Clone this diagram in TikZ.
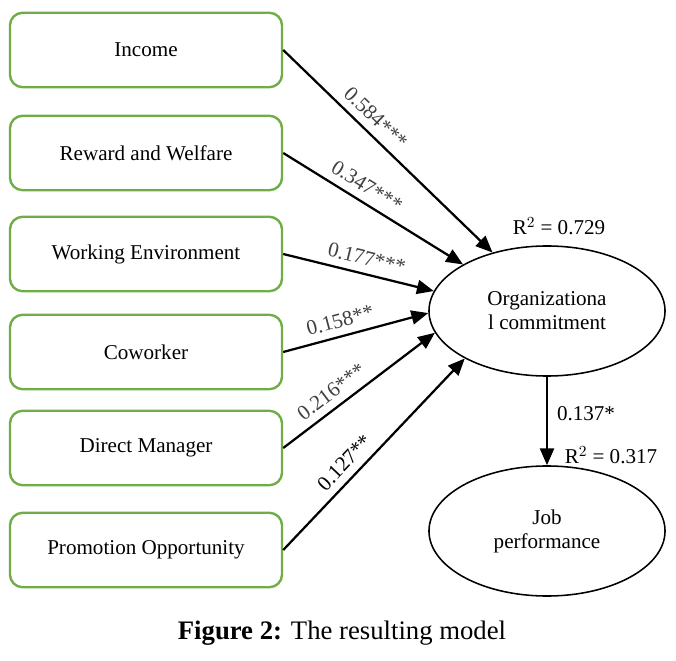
\documentclass[tikz,border=0pt]{standalone}
\usepackage{fontspec}
\setmainfont{Liberation Serif}
\usetikzlibrary{arrows.meta,positioning,shapes.geometric}
\definecolor{boxgreen}{HTML}{70AD47}
\definecolor{lblgray}{HTML}{404040}
\tikzset{
  factor/.style={draw=boxgreen,line width=1.7pt,rounded corners=9pt,
    minimum width=6.8cm,minimum height=1.86cm,font=\fontsize{15}{18}\selectfont},
  latent/.style={draw,ellipse,line width=1.1pt,minimum width=5.9cm,minimum height=3.25cm,
    align=center,font=\fontsize{15}{17}\selectfont},
  path/.style={line width=1.6pt,-{Triangle[length=12pt,width=10pt]}},
  coef/.style={font=\fontsize{15}{18}\selectfont,text=lblgray,sloped,above,yshift=2pt}
}

\begin{document}
\begin{tikzpicture}[x=0.025cm,y=-0.025cm]
  \useasboundingbox (0,0) rectangle (676,661);
  % Factors
  \node[factor] (inc) at (146,50) {Income};
  \node[factor] (rew) at (146,153) {Reward and Welfare};
  \node[factor] (env) at (146,254) {Working Environment};
  \node[factor] (cow) at (146,352) {Coworker};
  \node[factor] (man) at (146,448) {Direct Manager};
  \node[factor] (pro) at (146,550) {Promotion Opportunity};

  % Outcomes
  \node[latent] (org) at (547,311) {Organizationa\\l commitment};
  \node[latent] (job) at (547,531) {Job\\performance};
  \node[font=\fontsize{15}{18}\selectfont] (r2org) at (559,226) {R$^2$ = 0.729};
  \node[font=\fontsize{15}{18}\selectfont] (r2job) at (611,455) {R$^2$ = 0.317};

  % Paths
  \draw[path] (inc.east) -- (org.133) node[coef,pos=0.39] {0.584***};
  \draw[path] (rew.east) -- (org.151) node[coef,pos=0.42] {0.347***};
  \draw[path] (env.east) -- (org.170) node[coef,pos=0.53] {0.177***};
  \draw[path] (cow.east) -- (org.181) node[coef,pos=0.42] {0.158**};
  \draw[path] (man.east) -- (org.191) node[coef,pos=0.38] {0.216***};
  \draw[path] (pro.east) -- (org.210) node[coef,pos=0.40,text=black] {0.127**};
  \draw[path] (org.south) -- (job.north)
    node[font=\fontsize{15}{18}\selectfont,right=3pt,pos=0.42] {0.137*};

  % Caption
  \node[font=\fontsize{19}{22}\selectfont] (cap) at (342,633) {\textbf{Figure 2:} The resulting model};
\end{tikzpicture}
\end{document}
